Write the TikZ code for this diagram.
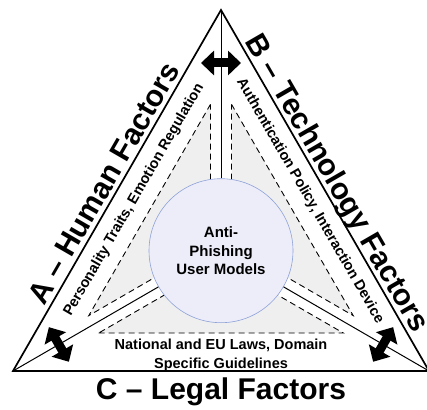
\documentclass[tikz,border=0pt]{standalone}
\usepackage{fontspec}
\setmainfont{Liberation Sans}
\usetikzlibrary{arrows.meta,calc}
\definecolor{zonefill}{HTML}{EFEFEF}
\definecolor{corefill}{HTML}{EDEDFA}
\definecolor{coreedge}{HTML}{8EA2D8}
\tikzset{
  frame/.style={draw=black, line width=1.7pt, line join=miter},
  spoke/.style={draw=black, line width=1pt},
  zone/.style={draw=black, fill=zonefill, line width=0.9pt, dash pattern=on 6pt off 4pt},
  core/.style={circle, draw=coreedge, fill=corefill, line width=0.6pt, minimum size=144pt,
               inner sep=0pt, align=center, font=\fontsize{15}{18.5}\selectfont\bfseries},
  factor/.style={font=\fontsize{30}{36}\selectfont\bfseries, inner sep=0pt, anchor=base},
  note/.style={font=\fontsize{14.5}{19.5}\selectfont\bfseries, inner sep=0pt, align=center},
  swap/.style={line width=9pt, {Triangle[length=13pt,width=24pt]}-{Triangle[length=13pt,width=24pt]}}
}
\begin{document}
\begin{tikzpicture}[x=1pt,y=1pt]
  \useasboundingbox (0,0) rectangle (427,409);
  % corners of the big triangle and its centre
  \coordinate (top) at (221,399);
  \coordinate (left) at (13,38);
  \coordinate (right) at (429,38);
  \coordinate (mid) at (221,158.3);
  % shaded zones, one per factor
  \draw[zone] (210.5,304.7) -- (88.8,93.4) -- (210.5,163.8) -- cycle;
  \draw[zone] (231.5,304.7) -- (353.2,93.4) -- (231.5,163.8) -- cycle;
  \draw[zone] (98.7,76) -- (343.3,76) -- (221,146.7) -- cycle;
  \node[core] (core) at (mid) {Anti-\\Phishing\\User Models};
  % spokes out to the corners
  \foreach \corner in {top,left,right}
    \draw[spoke] (core) -- (\corner);
  \draw[frame] (top) -- (left) -- (right) -- cycle;
  % double arrows across each spoke
  \foreach \corner in {top,left,right} {
    \coordinate (m\corner) at ($(\corner)!53pt!(mid)$);
    \draw[swap] ($(m\corner)!20pt!90:(mid)$) -- ($(m\corner)!20pt!-90:(mid)$);
  }
  % factor names on the outside
  \node[factor, rotate=60] (labA) at (112.7,221) {A -- Human Factors};
  \node[factor, rotate=-60] (labB) at (329.3,221) {B -- Technology Factors};
  \node[factor] (labC) at (221,10) {C -- Legal Factors};
  % what each factor covers
  \node[note, rotate=60] (noteA) at (134,209) {Personality Traits, Emotion Regulation};
  \node[note, rotate=-60] (noteB) at (310,208) {Authentication Policy, Interaction Device};
  \node[note] (noteC) at (221,54) {National and EU Laws, Domain\\Specific Guidelines};
\end{tikzpicture}
\end{document}
